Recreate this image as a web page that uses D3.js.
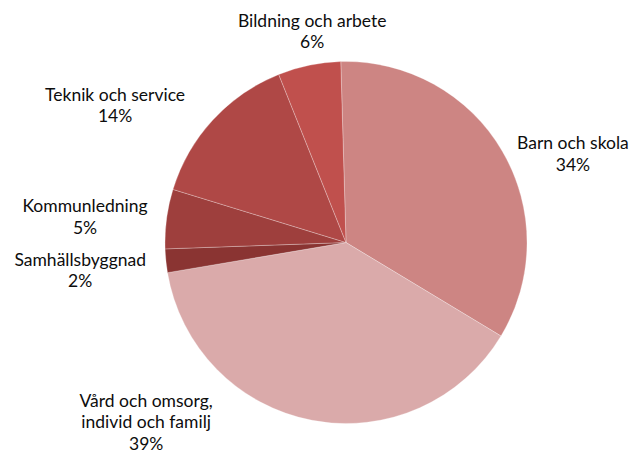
<!DOCTYPE html>
<html>
<head>
<meta charset="utf-8">
<script src="https://cdn.jsdelivr.net/npm/d3@7"></script>
<style>
  body { margin: 0; background: #fff; }
  text { font-family: Lato, "Open Sans", sans-serif; font-size: 17.5px; fill: #0d0d0d; }
</style>
</head>
<body>
<div id="root"></div>
<script>
const width = 632
const height = 455

// data
const categories = ['Barn och skola', 'Vård och omsorg, individ och familj', 'Samhällsbyggnad', 'Kommunledning', 'Teknik och service', 'Bildning och arbete']
const labelLines = [['Barn och skola'], ['Vård och omsorg,', 'individ och familj'], ['Samhällsbyggnad'], ['Kommunledning'], ['Teknik och service'], ['Bildning och arbete']]
const values = [34.1, 38.7, 2.1, 5.3, 14.2, 5.6]
const colors = ['#cd8583', '#daaaaa', '#8a3432', '#9e3f3d', '#af4846', '#c0504d']

// layout
const cx = 346
const cy = 242.5
const r = 181
const startAngle = -0.029
const labelRadius = 235
const labelNudge = [[24, 30], [-156, -51], [-32, 4], [-28, 5], [-58, 22], [14, 19]]
const lineHeight = 21.5

const svg = d3.select('#root').append('svg')
  .attr('width', width)
  .attr('height', height)

const g = svg.append('g')
  .attr('transform', `translate(${cx},${cy})`)

const pie = d3.pie()
  .sort(null)
  .startAngle(startAngle)
  .endAngle(startAngle + 2 * Math.PI)
  .value(d => d)

const arcs = pie(values)
const total = d3.sum(values)

const arc = d3.arc().innerRadius(0).outerRadius(r)
const labelArc = d3.arc().innerRadius(labelRadius).outerRadius(labelRadius)

g.selectAll('path.slice')
  .data(arcs)
  .join('path')
  .attr('class', 'slice')
  .attr('d', arc)
  .attr('fill', (d, i) => colors[i])
  .attr('stroke', 'rgba(255,255,255,0.45)')
  .attr('stroke-width', 0.6)

const labels = g.selectAll('text.lbl')
  .data(arcs)
  .join('text')
  .attr('class', 'lbl')
  .attr('text-anchor', 'middle')
  .attr('transform', (d, i) => {
    const [x, y] = labelArc.centroid(d)
    return `translate(${x + labelNudge[i][0]},${y + labelNudge[i][1]})`
  })

labels.each(function (d, i) {
  const lines = labelLines[i].concat([Math.round(d.value / total * 100) + '%'])
  const top = -(lines.length - 1) * lineHeight / 2
  d3.select(this).selectAll('tspan')
    .data(lines)
    .join('tspan')
    .attr('x', 0)
    .attr('y', (t, j) => top + j * lineHeight)
    .attr('dy', '0.35em')
    .text(t => t)
})
</script>
</body>
</html>
